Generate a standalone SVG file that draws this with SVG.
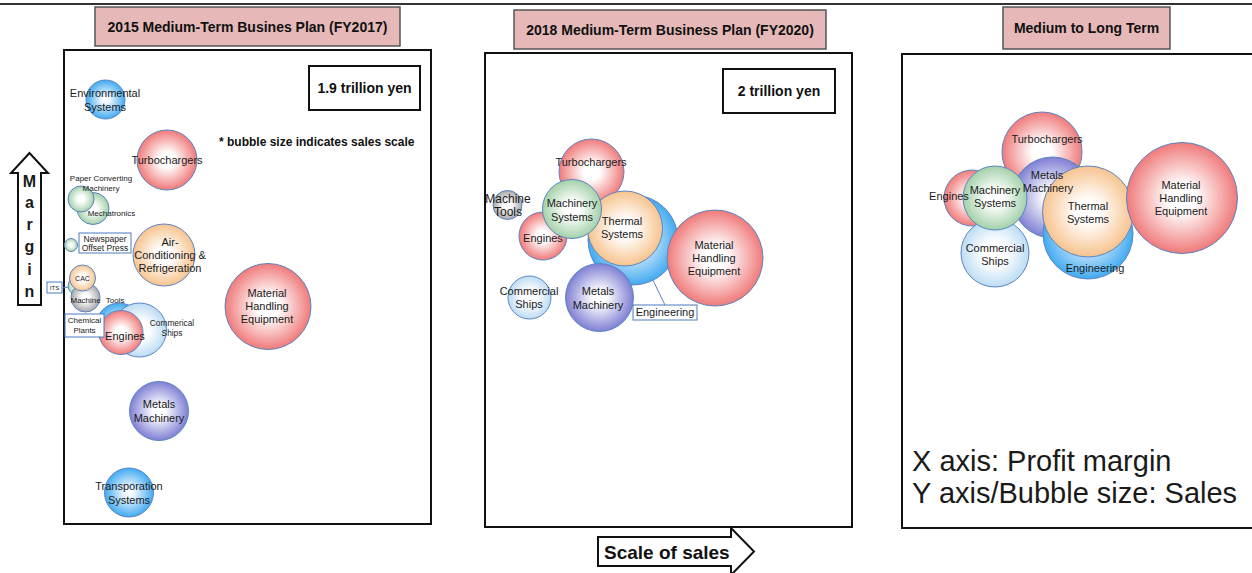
<svg xmlns="http://www.w3.org/2000/svg" width="1252" height="573" viewBox="0 0 1252 573">
<style>
text{font-family:"Liberation Sans",Arial,sans-serif;fill:#1a1a1a}
.t{font-size:11px;text-anchor:middle}
.s8{font-size:8px;text-anchor:middle}
.title{font-size:14px;font-weight:bold;text-anchor:middle;fill:#111}
.val{font-size:14px;font-weight:bold;text-anchor:middle;fill:#111}
.b{stroke:#5a85c4;stroke-width:1}
.frame{fill:#fff;stroke:#111;stroke-width:2}
.tbox{fill:#e6b9b8;stroke:#555;stroke-width:1.5}
.lbox{fill:#fff;stroke:#4a7cc0;stroke-width:1}
.pink{fill:url(#gPink)}.blue{fill:url(#gBlue)}.green{fill:url(#gGreen)}.orange{fill:url(#gOrange)}
.purple{fill:url(#gPurple)}.gray{fill:url(#gGray)}.lblue{fill:url(#gLBlue)}
.conn{stroke:#5a85c4;stroke-width:1;fill:none}
</style>
<defs>
<radialGradient id="gPink"><stop offset="0" stop-color="#fff"/><stop offset="0.25" stop-color="#fff"/><stop offset="1" stop-color="#f07a7a"/></radialGradient>
<radialGradient id="gBlue"><stop offset="0" stop-color="#fff"/><stop offset="0.2" stop-color="#eef8ff"/><stop offset="1" stop-color="#42aaf0"/></radialGradient>
<radialGradient id="gGreen"><stop offset="0" stop-color="#fff"/><stop offset="0.25" stop-color="#fff"/><stop offset="1" stop-color="#a3d1a9"/></radialGradient>
<radialGradient id="gOrange"><stop offset="0" stop-color="#fff"/><stop offset="0.25" stop-color="#fff"/><stop offset="1" stop-color="#f7c38e"/></radialGradient>
<radialGradient id="gPurple"><stop offset="0" stop-color="#fff"/><stop offset="0.2" stop-color="#fff"/><stop offset="1" stop-color="#7f7fd4"/></radialGradient>
<radialGradient id="gGray"><stop offset="0" stop-color="#fff"/><stop offset="0.25" stop-color="#fff"/><stop offset="1" stop-color="#a8a8a8"/></radialGradient>
<radialGradient id="gLBlue"><stop offset="0" stop-color="#fff"/><stop offset="0.35" stop-color="#fff"/><stop offset="1" stop-color="#bcdcf3"/></radialGradient>
</defs>

<line x1="0" y1="4" x2="1252" y2="4" stroke="#333" stroke-width="2"/>

<!-- Panel frames and titles -->
<g id="panel-2015">
<rect x="95" y="7" width="305" height="39" class="tbox"/>
<text x="247.5" y="32" class="title">2015 Medium-Term Busines Plan (FY2017)</text>
<rect x="64" y="50" width="367" height="474" class="frame"/>
<rect x="309" y="66" width="111" height="44" class="frame"/>
<text x="364.5" y="93" class="val">1.9 trillion yen</text>
<text x="219" y="146" style="font-size:12px;font-weight:bold;fill:#111">* bubble size indicates sales scale</text>
</g>
<g id="panel-2018">
<rect x="514" y="10" width="312" height="39" class="tbox"/>
<text x="670" y="35" class="title">2018 Medium-Term Business Plan (FY2020)</text>
<rect x="485" y="53" width="367" height="474" class="frame"/>
<rect x="723" y="69" width="112" height="44" class="frame"/>
<text x="779" y="96" class="val">2 trillion yen</text>
</g>
<g id="panel-long">
<rect x="1003" y="7" width="167" height="42" class="tbox"/>
<text x="1086.5" y="33" class="title">Medium to Long Term</text>
<rect x="902" y="54" width="360" height="474" class="frame"/>
<text x="912" y="471" style="font-size:29px">X axis: Profit margin</text>
<text x="912" y="503" style="font-size:29px">Y axis/Bubble size: Sales</text>
</g>

<!-- Axis arrows -->
<g id="axis-margin">
<path d="M18,305 L18,173 L11,173 L29.5,153 L48,173 L41,173 L41,305 Z" fill="#fff" stroke="#111" stroke-width="2"/>
<g style="font-size:16px;font-weight:bold;text-anchor:middle">
<text x="29.5" y="187">M</text><text x="29.5" y="208">a</text><text x="29.5" y="230">r</text>
<text x="29.5" y="252">g</text><text x="29.5" y="275">i</text><text x="29.5" y="297">n</text>
</g>
</g>
<g id="axis-sales">
<path d="M598,537 L731,537 L731,528 L754,551.5 L731,575 L731,566 L598,566 Z" fill="#fff" stroke="#111" stroke-width="2"/>
<text x="604" y="558.5" style="font-size:19px;font-weight:bold;fill:#111">Scale of sales</text>
</g>

<!-- Connectors -->
<g id="connectors">
<line x1="62" y1="288" x2="70" y2="287" class="conn"/>
<line x1="665" y1="305" x2="648" y2="270" class="conn"/>
</g>

<!-- 2015 bubbles -->
<g id="n15-env"><circle cx="105.5" cy="99.5" r="19.5" class="b blue"/><text class="t" x="105" y="97">Environmental</text><text class="t" x="105" y="111">Systems</text></g>
<g id="n15-turbo"><circle cx="167" cy="160" r="30" class="b pink"/><text class="t" x="167" y="164">Turbochargers</text></g>
<g id="n15-mecha"><circle cx="93" cy="208.5" r="16" class="b green"/></g>
<g id="n15-paper"><circle cx="81" cy="199" r="13" class="b green"/></g>
<g id="n15-news"><circle cx="71" cy="245" r="6.5" class="b green"/></g>
<g id="n15-ac"><circle cx="164" cy="255" r="31" class="b orange"/><text class="t" x="170" y="246">Air-</text><text class="t" x="170" y="259">Conditioning &amp;</text><text class="t" x="170" y="272">Refrigeration</text></g>
<g id="n15-mhe"><circle cx="268" cy="306.5" r="43" class="b pink"/><text class="t" x="267" y="297">Material</text><text class="t" x="267" y="310">Handling</text><text class="t" x="267" y="323">Equipment</text></g>
<g id="n15-its"><circle cx="77" cy="286" r="9" class="b green"/></g>
<g id="n15-mt"><circle cx="85.5" cy="297.5" r="14.5" class="b gray"/></g>
<g id="n15-cac"><circle cx="82.5" cy="278" r="13" class="b orange"/></g>
<g id="n15-chem"><circle cx="119" cy="326" r="23" class="b blue"/></g>
<g id="n15-ships"><circle cx="139.5" cy="330" r="27" class="b lblue"/></g>
<g id="n15-engines"><circle cx="121" cy="332.5" r="22" class="b pink"/></g>
<g id="n15-metals"><circle cx="159" cy="411" r="29.5" class="b purple"/><text class="t" x="159" y="408">Metals</text><text class="t" x="159" y="422">Machinery</text></g>
<g id="n15-trans"><circle cx="129" cy="492.5" r="24.5" class="b blue"/><text class="t" x="129" y="490">Transporation</text><text class="t" x="129" y="504">Systems</text></g>
<g id="n15-labels">
<text class="s8" x="101" y="181">Paper Converting</text><text class="s8" x="101" y="191">Machinery</text>
<text class="s8" x="111.5" y="216">Mechatronics</text>
<rect x="79" y="233" width="52" height="20" class="lbox"/>
<text class="s8" x="105" y="241.5" style="font-size:8.5px">Newspaper</text><text class="s8" x="105" y="251" style="font-size:8.5px">Offset Press</text>
<text class="s8" x="82.5" y="280.5" style="font-size:7px">CAC</text>
<rect x="47" y="282" width="15" height="11" class="lbox"/>
<text class="s8" x="54.5" y="290" style="font-size:6px">ITS</text>
<text class="s8" x="97.5" y="303" style="word-spacing:3px">Machine Tools</text>
<rect x="65" y="314" width="39" height="23" class="lbox"/>
<text class="s8" x="84.5" y="323">Chemical</text><text class="s8" x="84.5" y="333">Plants</text>
<text class="s8" x="172" y="326" style="font-size:8.3px">Commerical</text><text class="s8" x="172" y="336" style="font-size:8.3px">Ships</text>
<text class="t" x="125" y="340">Engines</text>
</g>

<!-- 2018 bubbles -->
<g id="n18-turbo"><circle cx="591.5" cy="171.5" r="32.5" class="b pink"/><text class="t" x="591" y="166">Turbochargers</text></g>
<g id="n18-mt"><circle cx="507.5" cy="205" r="14.5" class="b gray"/><text class="t" x="508" y="203" style="font-size:12px">Machine</text><text class="t" x="508" y="216" style="font-size:12px">Tools</text></g>
<g id="n18-engines"><circle cx="543" cy="236" r="24" class="b pink"/><text class="t" x="543" y="242">Engines</text></g>
<g id="n18-eng"><circle cx="633" cy="240" r="45" class="b blue"/></g>
<g id="n18-thermal"><circle cx="625" cy="228.5" r="37.5" class="b orange"/><text class="t" x="622" y="225">Thermal</text><text class="t" x="622" y="238">Systems</text></g>
<g id="n18-machsys"><circle cx="572" cy="209" r="29.5" class="b green"/><text class="t" x="572" y="207">Machinery</text><text class="t" x="572" y="221">Systems</text></g>
<g id="n18-metals"><circle cx="599.5" cy="297.5" r="34" class="b purple"/><text class="t" x="598" y="295">Metals</text><text class="t" x="598" y="309">Machinery</text></g>
<g id="n18-mhe"><circle cx="715" cy="258" r="48" class="b pink"/><text class="t" x="714" y="249">Material</text><text class="t" x="714" y="262">Handling</text><text class="t" x="714" y="275">Equipment</text></g>
<g id="n18-ships"><circle cx="529.5" cy="297.5" r="21.5" class="b lblue"/><text class="t" x="529" y="295">Commercial</text><text class="t" x="529" y="308">Ships</text></g>
<g id="n18-englabel"><rect x="633" y="305" width="64" height="15" class="lbox"/><text class="t" x="665" y="316">Engineering</text></g>

<!-- Long-term bubbles -->
<g id="nL-turbo"><circle cx="1042" cy="152" r="40" class="b pink"/></g>
<g id="nL-engines"><circle cx="972" cy="198" r="28" class="b pink"/></g>
<g id="nL-metals"><circle cx="1052.5" cy="197.5" r="40.5" class="b purple"/></g>
<g id="nL-ships"><circle cx="995" cy="253" r="34" class="b lblue"/></g>
<g id="nL-machsys"><circle cx="995" cy="198" r="32" class="b green"/></g>
<g id="nL-eng"><circle cx="1088" cy="234" r="45" class="b blue"/></g>
<g id="nL-thermal"><circle cx="1088" cy="211.5" r="45.5" class="b orange"/></g>
<g id="nL-mhe"><circle cx="1182" cy="198" r="55.5" class="b pink"/></g>
<g id="nL-labels">
<text class="t" x="1047" y="143">Turbochargers</text>
<text class="t" x="949" y="200">Engines</text>
<text class="t" x="995" y="194">Machinery</text><text class="t" x="995" y="207">Systems</text>
<text class="t" x="1047" y="179">Metals</text><text class="t" x="1048" y="192">Machinery</text>
<text class="t" x="995" y="252">Commercial</text><text class="t" x="995" y="265">Ships</text>
<text class="t" x="1088" y="210">Thermal</text><text class="t" x="1088" y="223">Systems</text>
<text class="t" x="1095" y="272">Engineering</text>
<text class="t" x="1181" y="189">Material</text><text class="t" x="1181" y="202">Handling</text><text class="t" x="1181" y="215">Equipment</text>
</g>
</svg>
